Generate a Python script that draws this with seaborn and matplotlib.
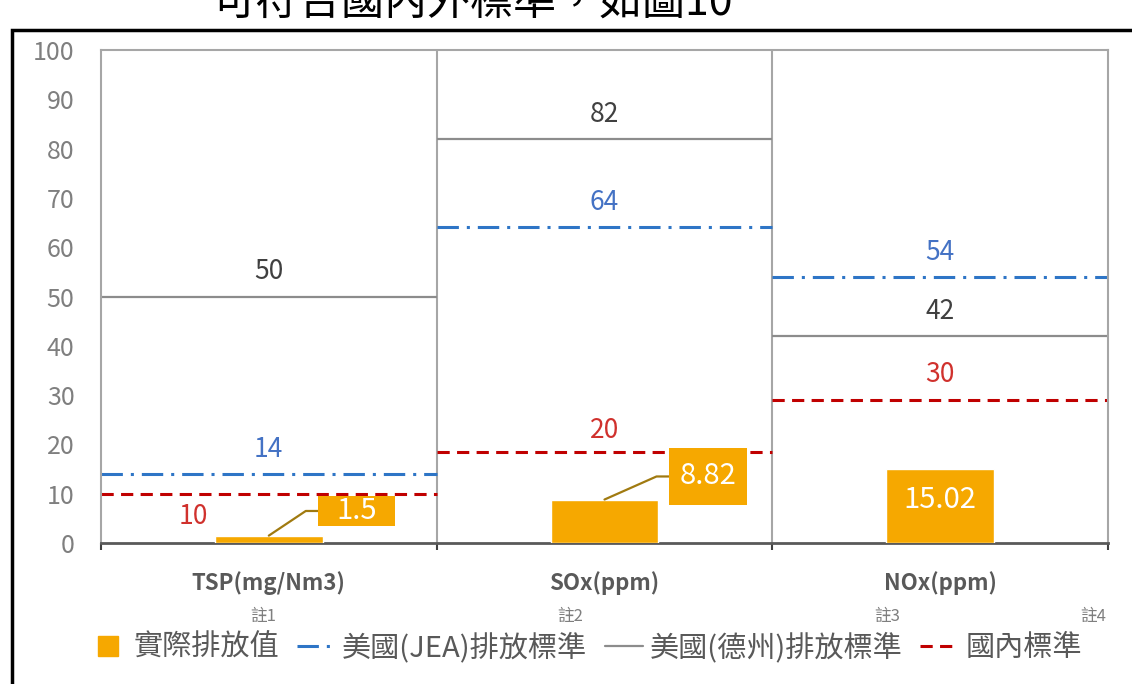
import matplotlib.pyplot as plt
import seaborn as sns
from matplotlib.patches import Rectangle
from matplotlib.lines import Line2D

# data
categories = ['TSP(mg/Nm3)', 'SOx(ppm)', 'NOx(ppm)']
actual = [1.5, 8.82, 15.02]
jea = [14, 64, 54]
texas = [50, 82, 42]
domestic = [10, 18.5, 29]
domestic_labels = ['10', '20', '30']
notes = ['註1', '註2', '註3', '註4']
legend_labels = ['實際排放值', '美國(JEA)排放標準', '美國(德州)排放標準', '國內標準']

orange = '#F6A800'
blue = '#2E75C6'
blue_txt = '#4472C4'
gray = '#8C8C8C'
red = '#C00000'
red_txt = '#D0312D'
dashdot = (0, (7, 2.6, 1, 2.6))
dashed = (0, (4, 2.4))

sns.set_theme(style='white')
plt.rcParams['font.family'] = ['Noto Sans CJK TC', 'DejaVu Sans']

fig, ax = plt.subplots(figsize=(11.32, 6.84), dpi=100)
fig.subplots_adjust(left=0.0892, right=0.9788, bottom=0.2061, top=0.9269)

sns.barplot(x=categories, y=actual, color=orange, saturation=1, width=0.32,
            ax=ax, zorder=3)

for i in range(len(categories)):
    ax.hlines(texas[i], i - 0.5, i + 0.5, color=gray, lw=1.6, zorder=2)
    ax.hlines(jea[i], i - 0.5, i + 0.5, color=blue, lw=2.2, ls=dashdot, zorder=2)
    ax.hlines(domestic[i], i - 0.5, i + 0.5, color=red, lw=2.2, ls=dashed, zorder=2)
    ax.text(i, texas[i] + 5, str(texas[i]), ha='center', va='center',
            color='#404040', fontsize=19)
    ax.text(i, jea[i] + 5, str(jea[i]), ha='center', va='center',
            color=blue_txt, fontsize=19)

# red labels: first one sits below-left of its line
red_off = [(-0.226, -4.7), (0, 4.4), (0, 5.1)]
for i, (dx, dy) in enumerate(red_off):
    ax.text(i + dx, domestic[i] + dy, domestic_labels[i], ha='center', va='center',
            color=red_txt, fontsize=19)

# callout boxes for the small bars (box x, box y, w, h, text x, text y, corner x)
callouts = {0: (0.147, 3.45, 0.229, 6.08, 0.262, 6.5, 0.11),
            1: (0.193, 7.7, 0.233, 11.6, 0.31, 13.5, 0.155)}
for i, (bx, by, bw, bh, tx, ty, cx) in callouts.items():
    ax.plot([i, i + cx, i + bx], [actual[i], ty, ty], color='#A07A10', lw=1.6, zorder=4)
    ax.add_patch(Rectangle((i + bx, by), bw, bh, facecolor=orange, edgecolor='none', zorder=4))
    ax.text(i + tx, ty, f'{actual[i]:g}', ha='center', va='center', color='white',
            fontsize=21, zorder=5)
ax.text(2, 8.7, f'{actual[2]:.2f}', ha='center', va='center', color='white',
        fontsize=21, zorder=5)

ax.set_xlim(-0.5, 2.5)
ax.set_ylim(0, 100)
ax.set_yticks(range(0, 101, 10))
ax.tick_params(axis='y', length=0, pad=19, labelsize=18, labelcolor='#7F7F7F')
ax.set_xticks(range(len(categories)))
ax.set_xticklabels(categories, fontweight='bold', fontsize=16, color='#595959')
ax.tick_params(axis='x', which='major', length=0, pad=20)
ax.set_xticks([-0.5, 0.5, 1.5, 2.5], minor=True)
ax.tick_params(axis='x', which='minor', bottom=True, length=5, width=1.5,
               color='#404040', direction='out')
for xb in [0.5, 1.5]:
    ax.axvline(xb, color='#A6A6A6', lw=1.5, zorder=1)
for s in ['left', 'right', 'top']:
    ax.spines[s].set_color('#A6A6A6')
    ax.spines[s].set_linewidth(1.5)
ax.spines['bottom'].set_color('#595959')
ax.spines['bottom'].set_linewidth(2)
ax.set_xlabel('')
ax.set_ylabel('')

# notes above the legend
note_x = [263, 570, 887, 1093]
for nx, t in zip(note_x, notes):
    fig.text(nx / 1132, 1 - 617 / 684, t, ha='center', va='center',
             fontsize=12, color='#7F7F7F')

handles = [Line2D([], [], marker='s', color=orange, ls='', markersize=15),
           Line2D([], [], color=blue, lw=2.2, ls=dashdot),
           Line2D([], [], color=gray, lw=1.6),
           Line2D([], [], color=red, lw=2.2, ls=dashed)]
fig.legend(handles, legend_labels, loc='center', bbox_to_anchor=(0.517, 0.053),
           ncol=4, frameon=False, fontsize=21, labelcolor='#595959',
           handlelength=1.3, handletextpad=0.25, columnspacing=0.6)

# page frame and the clipped line of text above it
fig.patches.append(Rectangle((12 / 1132, -0.1), 1.2, 1.1 - 30 / 684, fill=False,
                             lw=2.5, ec='black', transform=fig.transFigure))
fig.text(213 / 1132, 1 - 16 / 684, '可符合國內外標準，如圖10', fontsize=31,
         va='baseline', ha='left', color='black')

fig.savefig('out.png', dpi=100)
